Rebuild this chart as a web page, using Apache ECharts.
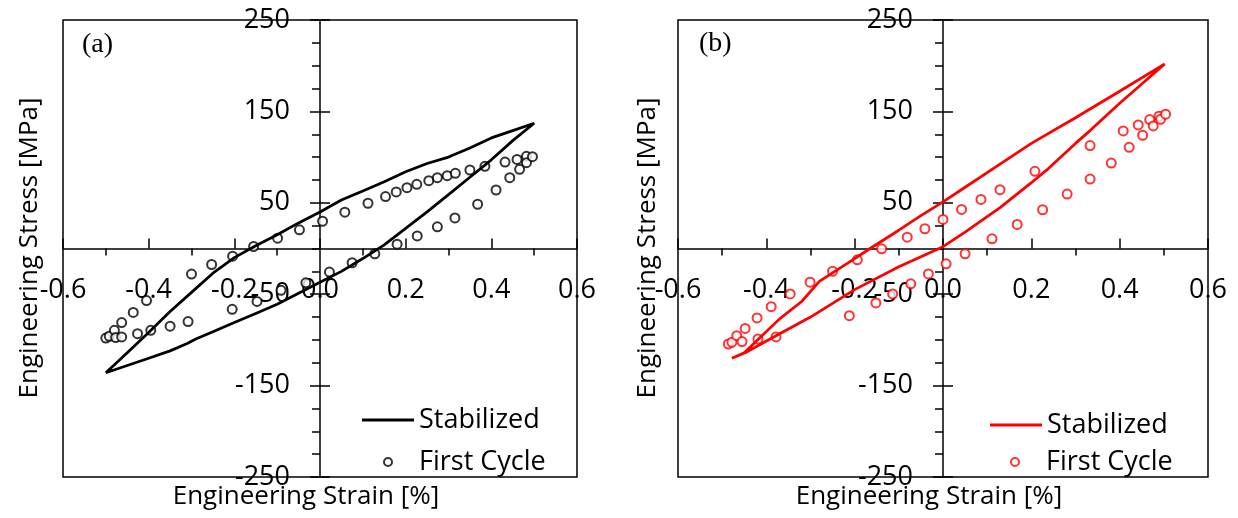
<!DOCTYPE html>
<html>
<head>
<meta charset="utf-8">
<script src="https://cdn.jsdelivr.net/npm/echarts@6/dist/echarts.min.js"></script>
<style>
  html, body { margin: 0; padding: 0; background: #fff; }
  #chart { width: 1238px; height: 518px; }
</style>
</head>
<body>
<div id="chart"></div>
<script>
// (a) stabilized loop: loading branch (min -> max), then unloading branch (max -> min)
var stabAUpX = [-0.5, -0.45, -0.4, -0.35, -0.3, -0.25, -0.2, -0.15, -0.1, -0.05, 0, 0.05, 0.1, 0.15, 0.2, 0.25, 0.3, 0.35, 0.4, 0.45, 0.5]
var stabAUpY = [-136, -114, -92, -69, -48, -27, -10, 3, 15, 28, 40, 53, 63, 73, 84, 93, 100, 110, 121, 129, 137]
var stabADnX = [0.45, 0.4, 0.35, 0.3, 0.25, 0.2, 0.15, 0.1, 0.05, 0, -0.05, -0.1, -0.15, -0.2, -0.25, -0.29, -0.31, -0.35, -0.4, -0.45, -0.5]
var stabADnY = [118, 97, 78, 59, 40, 22, 4, -11, -25, -37, -49, -61, -71, -81, -91, -99, -104, -112, -120, -128, -136]

// (a) first cycle points
var firstAX = [-0.5, -0.492, -0.48, -0.477, -0.463, -0.463, -0.436, -0.426, -0.405, -0.395, -0.35, -0.308, -0.3, -0.253,
  -0.205, -0.204, -0.155, -0.147, -0.099, -0.091, -0.048, -0.033, 0.006, 0.022, 0.058, 0.075, 0.112, 0.128, 0.153, 0.178,
  0.18, 0.203, 0.226, 0.227, 0.254, 0.274, 0.274, 0.297, 0.315, 0.316, 0.35, 0.368, 0.385, 0.411, 0.432, 0.443, 0.46,
  0.466, 0.482, 0.482, 0.496]
var firstAY = [-98, -96, -89.5, -97.5, -96.8, -81, -70, -93.2, -57, -89.5, -85, -80, -28, -17.5,
  -66.6, -8.4, 2.2, -57.9, 11.3, -45.8, 20.4, -37.5, 29.8, -25.8, 39.7, -15.6, 49.5, -5.8, 56.8, 61.9,
  4.7, 66.6, 70.2, 13.8, 74.2, 77.5, 23.7, 79.7, 33.5, 82.2, 85.9, 48.4, 89.9, 64, 94.6, 77.5, 97.5,
  86.6, 100.8, 93.9, 100.4]

// (b) stabilized loop
var stabBUpX = [-0.478, -0.45, -0.42, -0.37, -0.32, -0.28, -0.2, -0.165, -0.1, -0.05, 0, 0.05, 0.1, 0.2, 0.3, 0.4, 0.502]
var stabBUpY = [-120, -114, -100, -77, -58, -36, -11, 0, 20, 36, 51, 67, 83, 115, 143, 172, 202]
var stabBDnX = [0.45, 0.4, 0.333, 0.3, 0.235, 0.2, 0.13, 0.1, 0.05, 0, -0.1, -0.2, -0.3, -0.376, -0.448, -0.478]
var stabBDnY = [180, 159, 129, 115, 86, 72, 45, 35, 18, 2, -20, -45, -75, -95, -114, -120]

// (b) first cycle points
var firstBX = [-0.486, -0.478, -0.467, -0.455, -0.448, -0.421, -0.419, -0.389, -0.378, -0.346, -0.301, -0.25, -0.212,
  -0.194, -0.152, -0.139, -0.114, -0.081, -0.073, -0.041, -0.033, 0, 0.007, 0.042, 0.05, 0.086, 0.111, 0.129, 0.168,
  0.208, 0.2255, 0.281, 0.333, 0.333, 0.381, 0.408, 0.4215, 0.442, 0.452, 0.468, 0.476, 0.489, 0.4925, 0.504]
var firstBY = [-104.5, -102.7, -95.4, -101.8, -87.5, -76, -99, -63.6, -96.7, -49.7, -36.9, -24.9, -73.5,
  -12.4, -59.5, -0.3, -49.7, 12.4, -38.7, 21.6, -27.8, 31.8, -16.8, 42.8, -5.8, 53.7, 10.6, 64.3, 26.3,
  84.4, 42.4, 59.5, 112.6, 76, 93.5, 128.6, 110.7, 135.2, 123.9, 141.1, 134.1, 144.7, 141.4, 147]

var xTicks = { min: -0.6, max: 0.6, interval: 0.2 }
var yTicks = { min: -250, max: 250, interval: 100 }

function zip(xs, ys) {
  return xs.map(function (x, i) { return [x, ys[i]] })
}

var FONT = 'Open Sans'
var BLACK = '#000'
var tickLine = { color: BLACK, width: 1.5 }
var chart = echarts.init(document.getElementById('chart'))

// each panel uses three grids: the framed plot, one grid whose bottom edge is y=0
// (carries the x axis) and one grid whose left edge is x=0 (carries the y axis)
function panelGrids(left, width) {
  var half = width / 2
  return [
    { left: left, top: 20, width: width, height: 457, show: true, borderColor: BLACK, borderWidth: 1.5, outerBoundsMode: 'none' },
    { left: left, top: 20, width: width, height: 228.5, outerBoundsMode: 'none' },
    { left: left + half, top: 20, width: half, height: 457, outerBoundsMode: 'none' },
  ]
}

function panelXAxes(g) {
  return [
    { type: 'value', gridIndex: g, show: false, min: xTicks.min, max: xTicks.max },
    {
      type: 'value', gridIndex: g + 1, position: 'bottom',
      min: xTicks.min, max: xTicks.max, interval: xTicks.interval,
      axisLine: { onZero: false, lineStyle: tickLine },
      axisTick: { inside: true, length: 10, lineStyle: tickLine },
      axisLabel: {
        margin: 28, color: BLACK, fontSize: 27, fontFamily: FONT,
        formatter: function (v) { return v.toFixed(1) },
      },
      splitLine: { show: false },
    },
    {
      // minor ticks below the axis
      type: 'value', gridIndex: g + 1, position: 'bottom',
      min: xTicks.min, max: xTicks.max, interval: xTicks.interval,
      axisLine: { show: false, onZero: false },
      axisTick: { show: false },
      minorTick: { show: true, splitNumber: 2, length: 7, lineStyle: tickLine },
      axisLabel: { show: false },
      splitLine: { show: false },
    },
    { type: 'value', gridIndex: g + 2, show: false, min: 0, max: xTicks.max },
  ]
}

function panelYAxes(g) {
  return [
    { type: 'value', gridIndex: g, show: false, min: yTicks.min, max: yTicks.max },
    { type: 'value', gridIndex: g + 1, show: false, min: 0, max: yTicks.max },
    {
      type: 'value', gridIndex: g + 2, position: 'left',
      min: yTicks.min, max: yTicks.max, interval: yTicks.interval,
      axisLine: { onZero: false, lineStyle: tickLine },
      axisTick: { length: 10, lineStyle: tickLine },
      minorTick: { show: true, splitNumber: 4, length: 8, lineStyle: tickLine },
      axisLabel: { margin: 30, color: BLACK, fontSize: 27, fontFamily: FONT },
      splitLine: { show: false },
    },
    {
      // right half of the major ticks
      type: 'value', gridIndex: g + 2, position: 'left',
      min: yTicks.min, max: yTicks.max, interval: yTicks.interval,
      axisLine: { show: false, onZero: false },
      axisTick: { inside: true, length: 10, lineStyle: tickLine },
      axisLabel: { show: false },
      splitLine: { show: false },
    },
  ]
}

function legend(name, left, top, icon, h) {
  return {
    data: [name], left: left, top: top, icon: icon,
    itemWidth: 52, itemHeight: h,
    textStyle: { color: BLACK, fontSize: 27, fontFamily: FONT, lineHeight: 30 },
  }
}

var titleStyle = { fill: BLACK, fontSize: 26, fontFamily: FONT, align: 'center', verticalAlign: 'middle' }

chart.setOption({
  backgroundColor: '#fff',
  animation: false,
  grid: panelGrids(63, 514).concat(panelGrids(678, 530)),
  xAxis: panelXAxes(0).concat(panelXAxes(3)),
  yAxis: panelYAxes(0).concat(panelYAxes(3)),
  legend: [
    legend('Stabilized', 357, 400, 'rect', 3),
    legend('First Cycle', 378, 442, 'emptyCircle', 8),
    legend('Stabilized ', 985, 405, 'rect', 3),
    legend('First Cycle ', 1005, 442, 'emptyCircle', 8),
  ],
  graphic: [
    { type: 'text', left: 82, top: 31, style: { text: '(a)', fill: BLACK, fontSize: 28, fontFamily: 'Liberation Serif' } },
    { type: 'text', left: 699, top: 30, style: { text: '(b)', fill: BLACK, fontSize: 28, fontFamily: 'Liberation Serif' } },
    { type: 'text', x: 30, y: 248, rotation: Math.PI / 2, style: Object.assign({ text: 'Engineering Stress [MPa]' }, titleStyle) },
    { type: 'text', x: 648, y: 248, rotation: Math.PI / 2, style: Object.assign({ text: 'Engineering Stress [MPa]' }, titleStyle) },
    { type: 'text', x: 306, y: 497, style: Object.assign({ text: 'Engineering Strain [%]' }, titleStyle) },
    { type: 'text', x: 929, y: 497, style: Object.assign({ text: 'Engineering Strain [%]' }, titleStyle) },
  ],
  series: [
    {
      name: 'Stabilized', type: 'line', xAxisIndex: 0, yAxisIndex: 0,
      symbol: 'none', smooth: false, z: 3,
      lineStyle: { color: BLACK, width: 2.75 }, itemStyle: { color: BLACK },
      data: zip(stabAUpX, stabAUpY).concat(zip(stabADnX, stabADnY)),
    },
    {
      name: 'First Cycle', type: 'scatter', xAxisIndex: 0, yAxisIndex: 0,
      symbol: 'emptyCircle', symbolSize: 9,
      itemStyle: { color: BLACK, borderColor: BLACK, borderWidth: 1.2 },
      data: zip(firstAX, firstAY),
    },
    {
      name: 'Stabilized ', type: 'line', xAxisIndex: 4, yAxisIndex: 4,
      symbol: 'none', smooth: false, z: 3,
      lineStyle: { color: '#ff0000', width: 2.75 }, itemStyle: { color: '#ff0000' },
      data: zip(stabBUpX, stabBUpY).concat(zip(stabBDnX, stabBDnY)),
    },
    {
      name: 'First Cycle ', type: 'scatter', xAxisIndex: 4, yAxisIndex: 4,
      symbol: 'emptyCircle', symbolSize: 9,
      itemStyle: { color: '#ff0000', borderColor: '#ff0000', borderWidth: 1.2 },
      data: zip(firstBX, firstBY),
    },
  ],
})
</script>
</body>
</html>
